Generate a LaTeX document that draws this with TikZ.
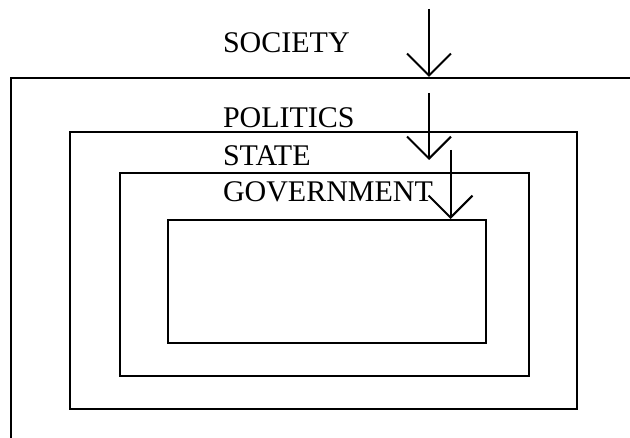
\documentclass[tikz,border=0pt]{standalone}
\usepackage{fontspec}
\setmainfont{Liberation Serif}
\usepackage{tikz}
\usetikzlibrary{arrows.meta}

\begin{document}
\begin{tikzpicture}[x=1pt,y=-1pt,line width=2pt,
  box/.style={draw,rectangle,anchor=north west,inner sep=0pt},
  lbl/.style={anchor=base west,inner sep=0pt,font=\fontsize{30}{36}\selectfont},
  arr/.style={-{Straight Barb[length=22pt,width=44pt]}}]
\useasboundingbox (0,0) rectangle (630,438);
\clip (0,0) rectangle (630,438);
% nested boxes
\node[box,minimum width=700pt,minimum height=420pt] (society) at (10,77) {};
\node[box,minimum width=507pt,minimum height=277pt] (politics) at (69,131) {};
\node[box,minimum width=409pt,minimum height=203pt] (state) at (119,172) {};
\node[box,minimum width=318pt,minimum height=123pt] (govt) at (167,219) {};
% labels
\node[lbl] (tsociety) at (222,53) {SOCIETY};
\node[lbl] (tpolitics) at (222,128) {POLITICS};
\node[lbl] (tstate) at (222,166) {STATE};
\node[lbl] (tgovt) at (222,202) {GOVERNMENT};
% arrows
\coordinate (s1) at (429,9);
\coordinate (s2) at (429,93);
\coordinate (e2) at (429,160);
\coordinate (s3) at (450.5,150);
\draw[arr] (s1) -- (s1 |- society.north);
\draw[arr] (s2) -- (e2);
\draw[arr] (s3) -- (s3 |- govt.north);
\end{tikzpicture}
\end{document}
